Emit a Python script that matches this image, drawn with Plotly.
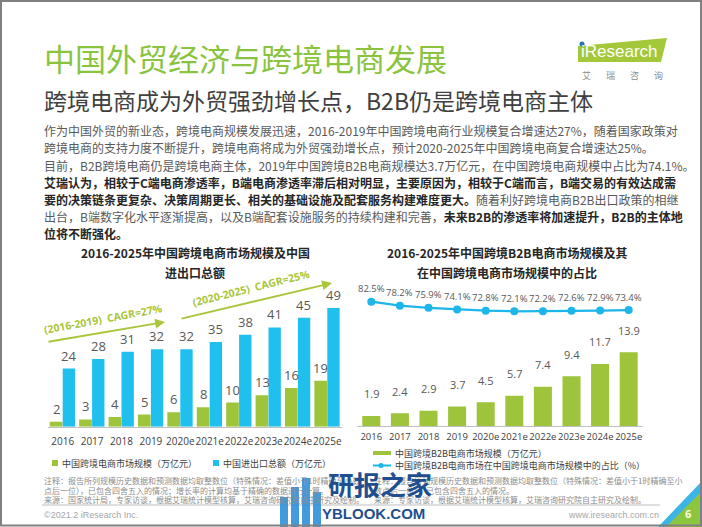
import plotly.graph_objects as go

W, H = 702, 527

# ---------------- data ----------------
years = ["2016", "2017", "2018", "2019", "2020e", "2021e", "2022e", "2023e", "2024e", "2025e"]
ecommerce_scale = [2, 3, 4, 5, 6, 8, 10, 13, 16, 19]          # 中国跨境电商市场规模（万亿元）
trade_total = [24, 28, 31, 32, 32, 35, 38, 41, 45, 49]        # 中国进出口总额（万亿元）
b2b_scale = [1.9, 2.4, 2.9, 3.7, 4.5, 5.7, 7.4, 9.4, 11.7, 13.9]   # 中国跨境B2B电商市场规模（万亿元）
b2b_share = [82.5, 78.2, 75.9, 74.1, 72.8, 72.1, 72.2, 72.6, 72.9, 73.4]  # 占比（%）

GREEN = "#9dc43b"
BLUE = "#1fbfee"
LINE_BLUE = "#1db6ea"
TITLE_GREEN = "#8ac43f"
ARROW_GREEN = "#a9c53a"
FONT = "Noto Sans CJK SC, Open Sans, sans-serif"
NUM = "Open Sans, Noto Sans CJK SC, sans-serif"


def px(x):
    return x / W


def py(y):
    return 1 - y / H


fig = go.Figure()
fig.add_bar(x=years, y=ecommerce_scale, width=0.43, offset=-0.44, marker=dict(color=GREEN, line=dict(width=0)),
            xaxis="x", yaxis="y", hoverinfo="skip")
fig.add_bar(x=years, y=trade_total, width=0.42, offset=0.0, marker=dict(color=BLUE, line=dict(width=0)),
            xaxis="x", yaxis="y", hoverinfo="skip")
fig.add_bar(x=years, y=b2b_scale, width=0.63, marker=dict(color=GREEN, line=dict(width=0)),
            xaxis="x2", yaxis="y2", hoverinfo="skip")
fig.add_scatter(x=years, y=b2b_share, mode="lines+markers", line=dict(color=LINE_BLUE, width=2.2),
                marker=dict(size=8, color=LINE_BLUE), xaxis="x2", yaxis="y3", hoverinfo="skip",
                cliponaxis=False)

ann = []
shapes = []


def txt(x, y, s, size, color, xanchor="left", family=FONT, angle=0):
    ann.append(dict(xref="paper", yref="paper", x=px(x), y=py(y), text=s, showarrow=False,
                    xanchor=xanchor, yanchor="middle", textangle=angle,
                    font=dict(size=size, color=color, family=family)))


# data labels (x given as category index so numeric-looking names are not misread)
for i, v in enumerate(ecommerce_scale):
    ann.append(dict(xref="x", yref="y", x=i, y=v, text=str(v), showarrow=False, yshift=13, xshift=-6.5,
                    yanchor="middle", font=dict(size=13, color="#595959", family=NUM)))
for i, v in enumerate(trade_total):
    ann.append(dict(xref="x", yref="y", x=i, y=v, text=str(v), showarrow=False, yshift=13, xshift=6,
                    yanchor="middle", font=dict(size=13, color="#595959", family=NUM)))
for i, v in enumerate(b2b_scale):
    ann.append(dict(xref="x2", yref="y2", x=i, y=v, text=str(v), showarrow=False, yshift=22,
                    yanchor="middle", font=dict(size=11, color="#595959", family=NUM)))
for i, v in enumerate(b2b_share):
    ann.append(dict(xref="x2", yref="y3", x=i, y=v, text=f"{v}%", showarrow=False, yshift=13,
                    yanchor="middle", font=dict(size=9.5, color="#595959", family=NUM)))

# titles
txt(42, 57, "中国外贸经济与跨境电商发展", 31, TITLE_GREEN)
txt(42, 100, "跨境电商成为外贸强劲增长点，B2B仍是跨境电商主体", 23, "#404040")

N = "#595959"
B = "#262626"
para = [
    (131, f"<span style='color:{N}'>作为中国外贸的新业态，跨境电商规模发展迅速，2016-2019年中国跨境电商行业规模复合增速达27%，随着国家政策对</span>"),
    (148, f"<span style='color:{N}'>跨境电商的支持力度不断提升，跨境电商将成为外贸强劲增长点，预计2020-2025年中国跨境电商复合增速达25%。</span>"),
    (165, f"<span style='color:{N}'>目前，B2B跨境电商仍是跨境电商主体，2019年中国跨境B2B电商规模达3.7万亿元，在中国跨境电商规模中占比为74.1%。</span>"),
    (182, f"<b style='color:{B}'>艾瑞认为，相较于C端电商渗透率，B端电商渗透率滞后相对明显，主要原因为，相较于C端而言，B端交易的有效达成需</b>"),
    (199, f"<b style='color:{B}'>要的决策链条更复杂、决策周期更长、相关的基础设施及配套服务构建难度更大。</b><span style='color:{N}'>随着利好跨境电商B2B出口政策的相继</span>"),
    (216, f"<span style='color:{N}'>出台，B端数字化水平逐渐提高，以及B端配套设施服务的持续构建和完善，</span><b style='color:{B}'>未来B2B的渗透率将加速提升，B2B的主体地</b>"),
    (233, f"<b style='color:{B}'>位将不断强化。</b>"),
]
for y, s in para:
    txt(42, y, s, 12, N)

# chart titles
txt(195, 252, "<b>2016-2025年中国跨境电商市场规模及中国</b>", 12, "#262626", xanchor="center")
txt(195, 272, "<b>进出口总额</b>", 12, "#262626", xanchor="center")
txt(507, 252, "<b>2016-2025年中国跨境B2B电商市场规模及其</b>", 12, "#262626", xanchor="center")
txt(507, 272, "<b>在中国跨境电商市场规模中的占比</b>", 12, "#262626", xanchor="center")

# CAGR arrows
for hx, hy, tx, ty in [(165, 322, 47, 342), (332, 283, 180, 319)]:
    ann.append(dict(xref="paper", yref="paper", x=px(hx), y=py(hy), ax=tx - hx, ay=ty - hy,
                    axref="pixel", ayref="pixel", text="", showarrow=True, arrowhead=2,
                    arrowsize=1.1, arrowwidth=1.8, arrowcolor=ARROW_GREEN))
txt(103, 319, "<b>(2016-2019)\u00a0\u00a0CAGR=27%</b>", 10.5, ARROW_GREEN, xanchor="center", family=NUM, angle=-10.5)
txt(251, 288, "<b>(2020-2025)\u00a0\u00a0CAGR=25%</b>", 10.5, ARROW_GREEN, xanchor="center", family=NUM, angle=-14)

# legends (left)
shapes.append(dict(type="rect", xref="paper", yref="paper", x0=px(52), x1=px(58), y0=py(466), y1=py(460),
                   fillcolor=GREEN, line=dict(width=0)))
txt(60, 463, "中国跨境电商市场规模（万亿元）", 9, "#404040")
shapes.append(dict(type="rect", xref="paper", yref="paper", x0=px(213), x1=px(219), y0=py(466), y1=py(460),
                   fillcolor=BLUE, line=dict(width=0)))
txt(221, 463, "中国进出口总额（万亿元）", 9, "#404040")

# legends (right)
shapes.append(dict(type="rect", xref="paper", yref="paper", x0=px(373), x1=px(391), y0=py(455), y1=py(451),
                   fillcolor=GREEN, line=dict(width=0)))
txt(393, 453, "中国跨境B2B电商市场规模（万亿元）", 9, "#404040")
shapes.append(dict(type="line", xref="paper", yref="paper", x0=px(373), x1=px(391), y0=py(465.5), y1=py(465.5),
                   line=dict(color=LINE_BLUE, width=2)))
shapes.append(dict(type="circle", xref="paper", yref="paper", x0=px(378.5), x1=px(383.5), y0=py(468), y1=py(463),
                   fillcolor=LINE_BLUE, line=dict(width=0)))
txt(393, 465, "中国跨境B2B电商市场在中国跨境电商市场规模中的占比（%）", 9, "#404040")

# footnotes
FN = "#8c8c8c"
txt(42, 480, "注释：报告所列规模历史数据和预测数据均取整数位（特殊情况：差值小于1时精确至小数", 8, FN)
txt(42, 490, "点后一位），已包含四舍五入的情况；增长率的计算均基于精确的数据进行计算。", 8, FN)
txt(42, 499, "来源：国家统计局，专家访谈，根据艾瑞统计模型核算，艾瑞咨询研究院自主研究及绘制。", 8, FN)
txt(372, 480, "注释：报告所列规模历史数据和预测数据均取整数位（特殊情况：差值小于1时精确至小", 8, FN)
txt(372, 490, "数点后一位），已包含四舍五入的情况。", 8, FN)
txt(372, 499, "来源：专家访谈，根据艾瑞统计模型核算，艾瑞咨询研究院自主研究及绘制。", 8, FN)

# footer
shapes.append(dict(type="line", xref="paper", yref="paper", x0=px(42), x1=px(660), y0=py(505), y1=py(505),
                   line=dict(color="#bfbfbf", width=1)))
txt(42, 515, "©2021.2 iResearch Inc.", 9, "#a6a6a6", family="Liberation Sans, Arial")
txt(661, 515, "www.iresearch.com.cn", 9, "#a6a6a6", xanchor="right", family="Liberation Sans, Arial")


def path(points):
    return "M " + " L ".join(f"{px(x)},{py(y)}" for x, y in points) + " Z"


# bottom-right corner decoration
shapes.append(dict(type="path", xref="paper", yref="paper", path=path([(658, 527), (702, 527), (702, 481)]),
                   fillcolor="#3cb4e5", line=dict(width=0)))
shapes.append(dict(type="path", xref="paper", yref="paper", path=path([(666, 527), (702, 527), (702, 491)]),
                   fillcolor="#8cc63f", line=dict(width=0)))
txt(688, 513, "<b>6</b>", 11, "#fffbe0", xanchor="center", family=NUM)

# logo
shapes.append(dict(type="path", xref="paper", yref="paper",
                   path=path([(578, 46), (667, 38), (661, 62), (578, 62)]),
                   fillcolor="#a3c93a", line=dict(width=0)))
txt(579, 52, "iResearch", 17, "white", family="Liberation Sans, Arial")
shapes.append(dict(type="circle", xref="paper", yref="paper", x0=px(579.5), x1=px(584.5), y0=py(46.5), y1=py(41.5),
                   fillcolor="#2a6fb3", line=dict(width=0)))
for cx, ch in zip([586, 610, 634, 658], "艾瑞咨询"):
    txt(cx, 75, ch, 9, "#8c8c8c", xanchor="center")

# watermark overlay
WM = "#1f4f8f"
for x0, top in [(280, 497), (291, 487), (302, 478), (313, 492)]:
    shapes.append(dict(type="rect", xref="paper", yref="paper", x0=px(x0), x1=px(x0 + 8), y0=py(527), y1=py(top),
                       fillcolor="#2f8fd8", line=dict(width=0), opacity=0.9))
txt(380, 483, "<b>研报之家</b>", 26, WM, xanchor="center")
txt(374, 513, "<b>YBLOOK.COM</b>", 15, WM, xanchor="center", family="Liberation Sans, Arial")

# frame
shapes.append(dict(type="rect", xref="paper", yref="paper", x0=px(1), x1=px(701), y0=py(525.5), y1=py(1),
                   line=dict(color="#808080", width=2), fillcolor="rgba(0,0,0,0)"))

axis_common = dict(type="category", range=[-0.5, 9.5], autorange=False, showline=True, linecolor="#bfbfbf",
                   linewidth=1, ticks="", showgrid=False, zeroline=False, fixedrange=True, tickangle=0)

fig.update_layout(
    width=W, height=H, margin=dict(l=0, r=0, t=0, b=0),
    paper_bgcolor="white", plot_bgcolor="rgba(0,0,0,0)",
    showlegend=False, barmode="overlay",
    xaxis=dict(domain=[px(48), px(342)], anchor="y", ticklabelstandoff=5,
               tickfont=dict(size=10, color="#404040", family=NUM), **axis_common),
    yaxis=dict(domain=[py(426.7), py(281.5)], range=[0, 60], autorange=False, visible=False, fixedrange=True),
    xaxis2=dict(domain=[px(357), px(643)], anchor="y2", ticklabelstandoff=2,
                tickfont=dict(size=9.5, color="#404040", family=NUM), **axis_common),
    yaxis2=dict(domain=[py(426), py(293.5)], range=[0, 25], autorange=False, visible=False, fixedrange=True),
    yaxis3=dict(overlaying="y2", anchor="x2", range=[-52.17, 91.38], autorange=False, visible=False,
                fixedrange=True),
    annotations=ann, shapes=shapes,
)

fig.write_html("out.html", config={"displayModeBar": False},
               post_script="document.body.style.margin='0';document.body.style.overflow='hidden';")
